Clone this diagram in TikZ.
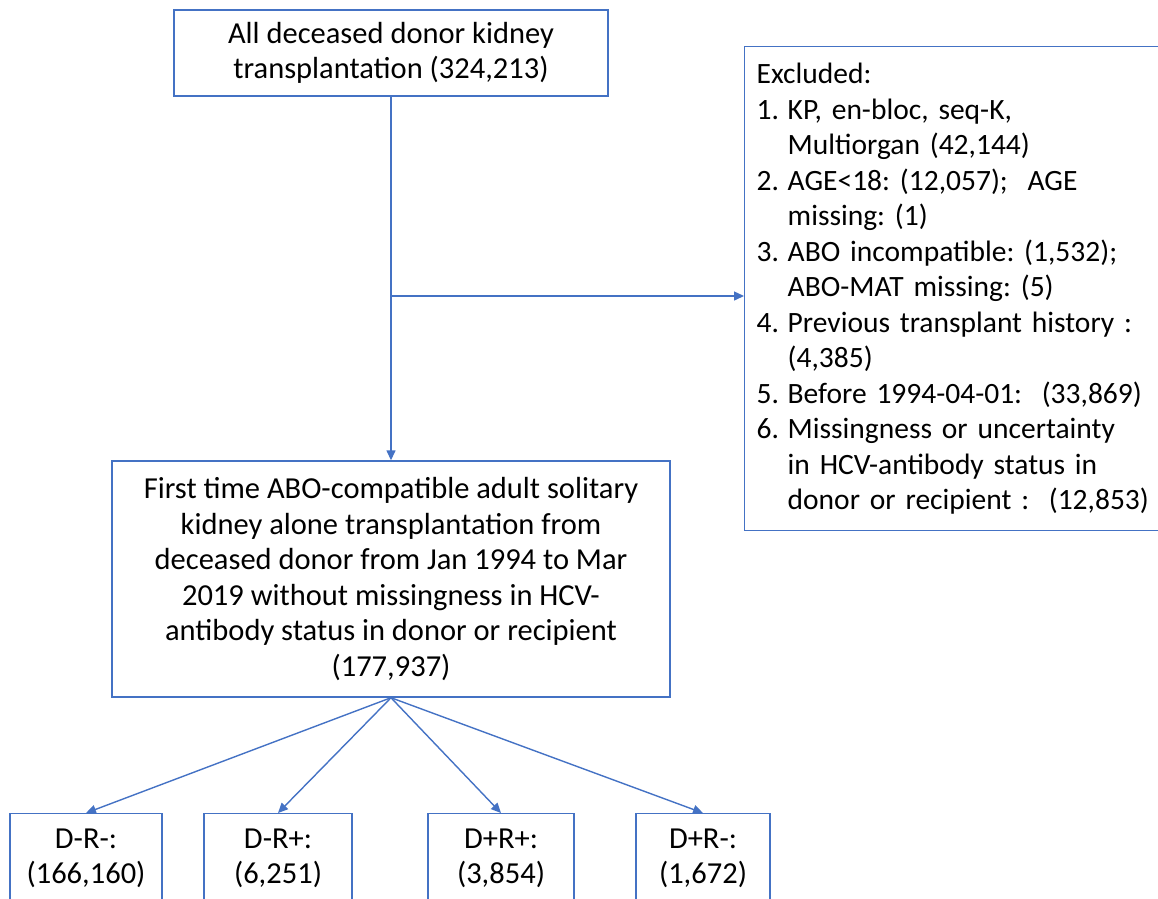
\documentclass[tikz,border=0pt]{standalone}
\usepackage{fontspec}
\setmainfont{Carlito}
\frenchspacing
\usetikzlibrary{arrows.meta}
\definecolor{officeblue}{HTML}{4472C4}
\newcommand\exnum[1]{\makebox[31pt][l]{#1}}
\newcommand\exgap{\hspace*{31pt}}

\begin{document}
\begin{tikzpicture}[x=1pt,y=-1pt,
    box/.style={draw=officeblue,line width=1.4pt,align=center,inner sep=0pt},
    link/.style={draw=officeblue,line width=1.4pt,-{Triangle[length=10pt,width=9pt]}},
    font=\fontsize{30.5}{35.5}\selectfont]
  \useasboundingbox (0,0) rectangle (1158,898);
  \clip (0,0) rectangle (1158,898);
  % cohort boxes
  \node [box,minimum width=434pt,minimum height=86pt] (all) at (391,53)
    {All deceased donor kidney\\transplantation (324,213)};
  \node [box,minimum width=558pt,minimum height=236pt] (adult) at (391,579)
    {First time ABO-compatible adult solitary\\kidney alone transplantation from\\deceased donor from Jan 1994 to Mar\\2019 without missingness in HCV-\\antibody status in donor or recipient\\(177,937)};
  \node [box,anchor=north west,align=left,inner xsep=12pt,text width=440pt,
         minimum height=484pt,font=\fontsize{29.5}{35.5}\selectfont] (excl) at (744,46)
    {Excluded:\\
     \exnum{1.}KP, en-bloc, seq-K,\\
     \exgap Multiorgan (42,144)\\
     \exnum{2.}AGE<18: (12,057);\ \ AGE\\
     \exgap missing: (1)\\
     \exnum{3.}ABO incompatible: (1,532);\\
     \exgap ABO-MAT missing: (5)\\
     \exnum{4.}Previous transplant history :\\
     \exgap (4,385)\\
     \exnum{5.}Before 1994-04-01:\ \ (33,869)\\
     \exnum{6.}Missingness or uncertainty\\
     \exgap in HCV-antibody status in\\
     \exgap donor or recipient :\ \ (12,853)};
  % HCV groups (cut off at the bottom)
  \node [box,anchor=north,inner ysep=15pt,minimum width=152pt] (dnrn) at (86,813)
    {D-R-:\\(166,160)\\[40pt]\mbox{}};
  \node [box,anchor=north,inner ysep=15pt,minimum width=148pt] (dnrp) at (278,813)
    {D-R+:\\(6,251)\\[40pt]\mbox{}};
  \node [box,anchor=north,inner ysep=15pt,minimum width=146pt] (dprp) at (501,813)
    {D+R+:\\(3,854)\\[40pt]\mbox{}};
  \node [box,anchor=north,inner ysep=15pt,minimum width=134pt] (dprn) at (703,813)
    {D+R-:\\(1,672)\\[40pt]\mbox{}};

  \coordinate (split) at (391,296);
  \draw [link] (all.south) -- (adult.north);
  \draw [link] (split) -- (split -| excl.west);
  \foreach \grp in {dnrn,dnrp,dprp,dprn}
    \draw [link] (adult.south) -- (\grp.north);
\end{tikzpicture}
\end{document}
